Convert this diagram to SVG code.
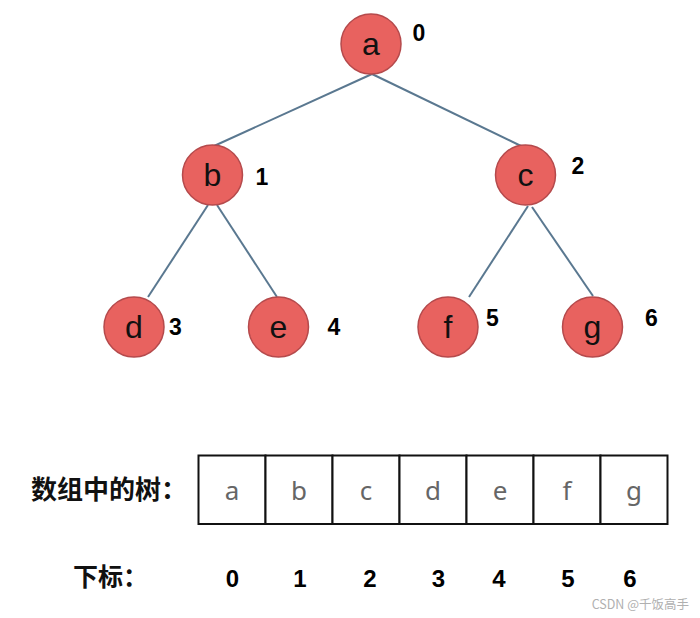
<svg xmlns="http://www.w3.org/2000/svg" width="700" height="618" viewBox="0 0 700 618">
<style>
.node circle{fill:#e8625f;stroke:#b54a4c;stroke-width:1.5}
.node text.l{font-family:"Liberation Sans",Arial,sans-serif;font-size:32px;fill:#111;text-anchor:middle}
.idx{font-family:"Liberation Sans",Arial,sans-serif;font-size:23px;font-weight:bold;fill:#000;text-anchor:middle}
.edge{stroke:#5a7890;stroke-width:2;fill:none}
.cell{fill:#fff;stroke:#111;stroke-width:2}
.cl{font-family:"Noto Sans","Open Sans",sans-serif;font-size:26px;fill:#666;text-anchor:middle}
.cn{font-family:"Noto Sans CJK SC","Noto Sans",sans-serif;font-weight:bold;fill:#111}
.bn{font-family:"Liberation Sans",Arial,sans-serif;font-size:24px;font-weight:bold;fill:#000;text-anchor:middle}
</style>
<rect width="700" height="618" fill="#fff"/>
<g id="connectors">
<line class="edge" x1="372" y1="74" x2="214" y2="146"/>
<line class="edge" x1="372" y1="74" x2="521" y2="146"/>
<line class="edge" x1="208" y1="205" x2="148" y2="297"/>
<line class="edge" x1="217" y1="205" x2="277" y2="297"/>
<line class="edge" x1="528" y1="206" x2="469" y2="297"/>
<line class="edge" x1="532" y1="207" x2="593" y2="296"/>
</g>
<g id="node-a" class="node"><circle cx="371" cy="44" r="30"/><text class="l" x="371" y="55">a</text><text class="idx" x="419" y="41">0</text></g>
<g id="node-b" class="node"><circle cx="212.5" cy="175" r="30"/><text class="l" x="212.5" y="186">b</text><text class="idx" x="262" y="184.5">1</text></g>
<g id="node-c" class="node"><circle cx="525.5" cy="175" r="30"/><text class="l" x="525.5" y="186">c</text><text class="idx" x="578" y="173.5">2</text></g>
<g id="node-d" class="node"><circle cx="134" cy="327" r="30"/><text class="l" x="134" y="338">d</text><text class="idx" x="175.5" y="335">3</text></g>
<g id="node-e" class="node"><circle cx="278.5" cy="327" r="30"/><text class="l" x="278.5" y="338">e</text><text class="idx" x="334" y="335">4</text></g>
<g id="node-f" class="node"><circle cx="448" cy="327" r="30"/><text class="l" x="448" y="338">f</text><text class="idx" x="492.5" y="325.5">5</text></g>
<g id="node-g" class="node"><circle cx="592.5" cy="327" r="30"/><text class="l" x="592.5" y="338">g</text><text class="idx" x="651.5" y="325.5">6</text></g>
<g id="array">
<text class="cn" x="31" y="499" font-size="26">数组中的树：</text>
<rect class="cell" x="198.5" y="455.5" width="67" height="68.5"/>
<rect class="cell" x="265.5" y="455.5" width="67" height="68.5"/>
<rect class="cell" x="332.5" y="455.5" width="67" height="68.5"/>
<rect class="cell" x="399.5" y="455.5" width="67" height="68.5"/>
<rect class="cell" x="466.5" y="455.5" width="67" height="68.5"/>
<rect class="cell" x="533.5" y="455.5" width="67" height="68.5"/>
<rect class="cell" x="600.5" y="455.5" width="67" height="68.5"/>
<text class="cl" x="232" y="500">a</text>
<text class="cl" x="299" y="500">b</text>
<text class="cl" x="366" y="500">c</text>
<text class="cl" x="433" y="500">d</text>
<text class="cl" x="500" y="500">e</text>
<text class="cl" x="567" y="500">f</text>
<text class="cl" x="634" y="500">g</text>
</g>
<g id="indices">
<text class="cn" x="73" y="586" font-size="25">下标：</text>
<text class="bn" x="232.5" y="586.5">0</text>
<text class="bn" x="300" y="586.5">1</text>
<text class="bn" x="370" y="586.5">2</text>
<text class="bn" x="438.5" y="586.5">3</text>
<text class="bn" x="499" y="586.5">4</text>
<text class="bn" x="568" y="586.5">5</text>
<text class="bn" x="630" y="586.5">6</text>
</g>
<text x="689" y="609" font-family="'Noto Sans CJK SC','Noto Sans',sans-serif" font-size="12.5" fill="#b0b0b0" text-anchor="end">CSDN @千饭高手</text>
</svg>
